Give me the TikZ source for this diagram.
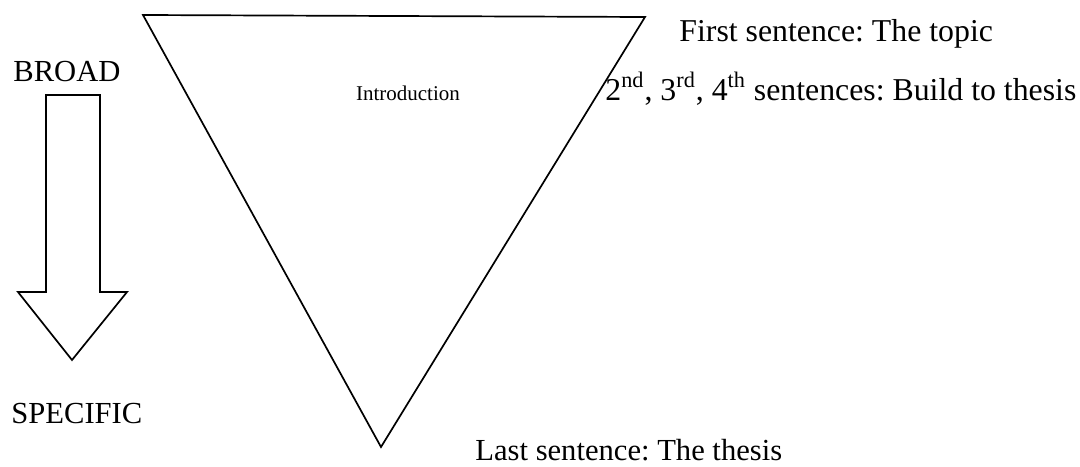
\documentclass[tikz,border=0pt]{standalone}
\usepackage{fontspec}
\setmainfont{Liberation Serif}
\frenchspacing
\usetikzlibrary{positioning}

\begin{document}
\begin{tikzpicture}[
x=0.5pt, y=-0.5pt,
label/.style={
inner sep=0pt,
anchor=base west,
font=\fontsize{15.3}{18}\selectfont
},
sentence/.style={
label,
font=\fontsize{15.9}{19}\selectfont
},
shape line/.style={
draw,
line width=0.85pt,
line join=miter
}
]

\useasboundingbox (0,0) rectangle (1080,466);

% triangle
\coordinate (tl) at (143,15);
\coordinate (tr) at (645,17);
\coordinate (tip) at (381,447);
\draw[shape line] (tl) -- (tr) -- (tip) -- cycle;

\node[font=\fontsize{10.5}{12}\selectfont, anchor=base] (intro) at (408,100)
{Introduction};

% broad to specific arrow
\draw[shape line]
(46,95) -- (100,95) -- (100,292) -- (127,292)
-- (72,360) -- (18,292) -- (46,292) -- cycle;

\node[label] (broad) at (13,81) {BROAD};
\node[label] (specific) at (11,423) {SPECIFIC};

% sentence notes
\node[sentence] (first) at (679,41)
{First sentence: The topic};

\node[sentence] (middle) at (605,100)
{2\textsuperscript{nd}, 3\textsuperscript{rd}, 4\textsuperscript{th} sentences: Build to thesis};

\node[label] (last) at (475,460)
{Last sentence: The thesis};

\end{tikzpicture}
\end{document}
